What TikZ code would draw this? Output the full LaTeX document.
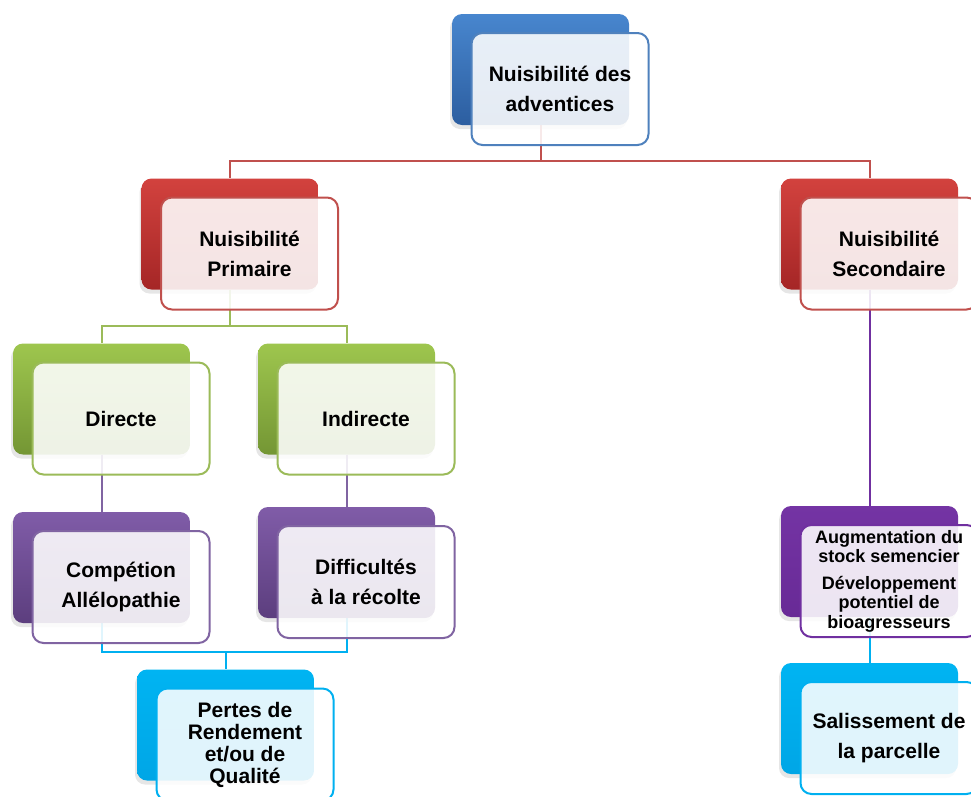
\documentclass[tikz,border=0pt]{standalone}
\usepackage{fontspec}
\setmainfont{Liberation Sans}
\usetikzlibrary{positioning,shadows,backgrounds}

\definecolor{bleuH}{RGB}{72,134,206}
\definecolor{bleuB}{RGB}{44,94,160}
\definecolor{bleuL}{RGB}{79,129,189}
\definecolor{rougeH}{RGB}{210,66,62}
\definecolor{rougeB}{RGB}{165,38,38}
\definecolor{rougeL}{RGB}{192,80,77}
\definecolor{vertH}{RGB}{158,198,78}
\definecolor{vertB}{RGB}{116,150,52}
\definecolor{vertL}{RGB}{155,187,89}
\definecolor{violetH}{RGB}{128,92,168}
\definecolor{violetB}{RGB}{92,62,126}
\definecolor{violetL}{RGB}{128,100,162}
\definecolor{pourpreH}{RGB}{116,52,164}
\definecolor{pourpreB}{RGB}{104,42,150}
\definecolor{pourpreL}{RGB}{112,48,160}
\definecolor{cyanH}{RGB}{0,180,242}
\definecolor{cyanB}{RGB}{0,166,230}
\definecolor{cyanL}{RGB}{0,176,240}

\tikzset{fond/.style={top color=#1H, bottom color=#1B, rounded corners=10pt,
         minimum width=177pt, minimum height=111pt, inner sep=0pt,
         drop shadow={shadow xshift=-2pt, shadow yshift=-4pt, opacity=0.2}},
         face/.style={draw=#1L, line width=2pt, fill=white, fill opacity=0.88,
         text opacity=1, rounded corners=11pt, minimum width=177pt,
         minimum height=112pt, inner sep=0pt, align=center,
         font=\bfseries\fontsize{21}{30}\selectfont},
         lien/.style={draw=#1L, line width=2pt}}

% bloc : fond colore + carte claire decalee
\newcommand{\bloc}[5][]{%
  \node[fond=#3] (#2) at (#4) {};
  \node[face=#3,#1] (#2-t) at ([shift={(19.5,19.5)}]#2.center) {#5};}

\begin{document}
\begin{tikzpicture}[x=1pt,y=-1pt]
  \path[use as bounding box,clip] (0,0) rectangle (971,796);
  \bloc{top}{bleu}{540.5,69.5}{Nuisibilité des\\adventices}
  \bloc{prim}{rouge}{230,234}{Nuisibilité\\Primaire}
  \bloc{sec}{rouge}{869.5,234}{Nuisibilité\\Secondaire}
  \bloc{dir}{vert}{101.5,399}{Directe}
  \bloc{indir}{vert}{346.5,399}{Indirecte}
  \bloc{comp}{violet}{101.5,567.5}{Compétion\\Allélopathie}
  \bloc{diff}{violet}{346.5,562.5}{Difficultés\\à la récolte}
  \bloc[font=\bfseries\fontsize{21}{22}\selectfont]{pertes}{cyan}{225.5,725}%
    {Pertes de\\Rendement\\et/ou de\\Qualité}
  \bloc[font=\bfseries\fontsize{18}{19.5}\selectfont]{aug}{pourpre}{869.5,561.5}%
    {Augmentation du\\stock semencier\\[7pt]Développement\\potentiel de\\bioagresseurs}
  \bloc{sal}{cyan}{869.5,718.5}{Salissement de\\la parcelle}
  % liaisons
  \begin{scope}[on background layer]
    \foreach \a/\b/\c in {top/prim/rouge, top/sec/rouge, prim/dir/vert,
        prim/indir/vert, dir/comp/violet, indir/diff/violet,
        comp/pertes/cyan, diff/pertes/cyan, sec/aug/pourpre, aug/sal/cyan}
      \draw[lien=\c] (\a.south) |- ([yshift=17pt]\b.north) -- (\b.north);
  \end{scope}
\end{tikzpicture}
\end{document}
